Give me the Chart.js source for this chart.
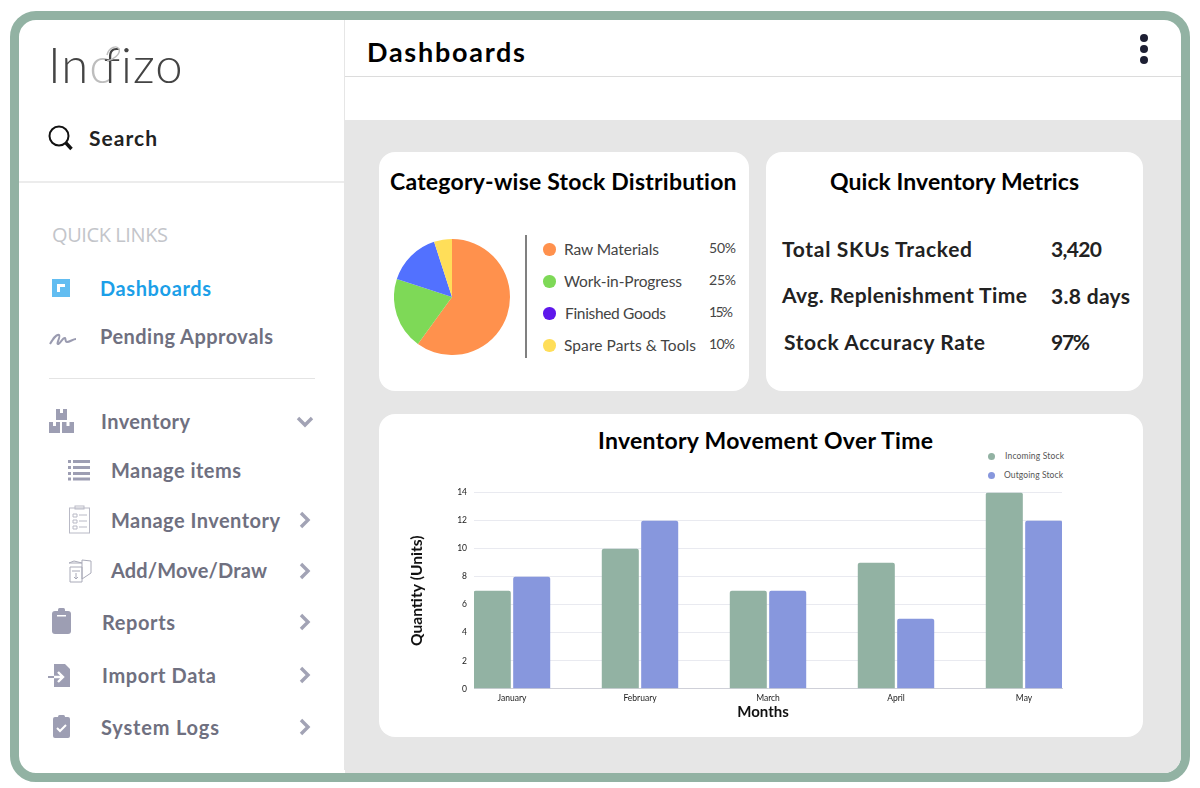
<!DOCTYPE html>
<html><head><meta charset="utf-8">
<script src="https://cdn.jsdelivr.net/npm/chart.js@4"></script>
<style>
html,body{margin:0;padding:0;width:1200px;height:788px;overflow:hidden;background:#fff}
#frame{position:absolute;left:10px;top:11px;width:1162px;height:753px;border:9px solid #92b2a3;border-radius:26px;background:#fff;overflow:hidden}
#inner{position:absolute;left:326px;top:100px;width:836px;height:653px;background:#e6e6e6}
.box{position:absolute}
.t{position:absolute;white-space:nowrap;transform:translateY(-50%);line-height:1.2;font-family:Lato,sans-serif}
canvas{display:block}
svg{position:absolute;overflow:visible}
</style></head><body>
<div id="frame"><div id="inner"></div></div>
<div class="box" style="left:345px;top:76px;width:836px;height:1px;background:#dcdcdc"></div>
<div class="box" style="left:344px;top:20px;width:1px;height:750px;background:#e6e6e6"></div>
<div class="box" style="left:19px;top:181px;width:325px;height:2px;background:#ececec"></div>
<div class="box" style="left:49px;top:377.5px;width:266px;height:1.5px;background:#e4e4e4"></div>
<div class="box" style="left:379px;top:152px;width:370px;height:239px;background:#fff;border-radius:16px"></div>
<div class="box" style="left:766px;top:152px;width:377px;height:239px;background:#fff;border-radius:16px"></div>
<div class="box" style="left:379px;top:414px;width:764px;height:323px;background:#fff;border-radius:16px"></div>
<div class="box" style="left:525px;top:235px;width:2px;height:123px;background:#808080"></div>
<div class="box" style="left:1140px;top:34px;width:8px;height:8px;border-radius:50%;background:#1d1f33"></div>
<div class="box" style="left:1140px;top:45px;width:8px;height:8px;border-radius:50%;background:#1d1f33"></div>
<div class="box" style="left:1140px;top:56px;width:8px;height:8px;border-radius:50%;background:#1d1f33"></div>

<div class="t" style="left:48px;top:64px;font:300 49px Lato,sans-serif;color:#444;line-height:1.2;letter-spacing:1px">In<span style="color:#bdbdbd;letter-spacing:-9px">c</span>fizo</div>

<svg style="left:0;top:0" width="345" height="788" viewBox="0 0 345 788">
 <path d="M107 55c2-8 10-10 12-6 2 5-6 11-12 12" fill="none" stroke="#bdbdbd" stroke-width="1.400"/>
 <g fill="none" stroke="#111" stroke-width="2"><circle cx="59" cy="136" r="9.5"/><path d="M66 143l5.5 6" stroke-width="3.4"/></g>
 <rect x="52" y="279" width="18" height="18" fill="#62bdf1"/><path d="M57 284h8v3h-5v5h-3z" fill="#fff"/>
 <path d="M50 344c3-5 6-10 9-9 2 1-3 9-1 9 2 0 5-7 7-6 1 1 0 4 2 4 3 0 6-3 9-3" fill="none" stroke="#9a9bb0" stroke-width="2"/>
 <g fill="#9d9eb3"><rect x="56" y="409" width="11" height="11"/><rect x="49" y="422" width="11" height="11"/><rect x="62" y="422" width="12" height="11"/></g>
 <g fill="#fff"><rect x="60" y="409" width="3" height="4"/><rect x="53" y="422" width="3" height="4"/><rect x="66.500" y="422" width="3" height="4"/></g>
 <g fill="#9d9eb3"><rect x="68" y="460" width="3" height="3"/><rect x="68" y="466" width="3" height="3"/><rect x="68" y="472" width="3" height="3"/><rect x="68" y="477.500" width="3" height="3"/><rect x="73" y="460" width="17" height="3"/><rect x="73" y="466" width="17" height="3"/><rect x="73" y="472" width="17" height="3"/><rect x="73" y="477.500" width="17" height="3"/></g>
 <g fill="none" stroke="#b9bac6" stroke-width="1"><rect x="69.500" y="508" width="20" height="25"/><rect x="75" y="506" width="9" height="3"/><path d="M73 514h4v3h-4zM73 520h4v3h-4zM73 526h4v3h-4zM79 515h8M79 521h8M79 527h8"/></g>
 <g fill="none" stroke="#a9aab8" stroke-width="1"><path d="M69 563l5-2 8 2v-3l9 1v12l-9 6v-16l-13 0z"/><path d="M70 567h12v15h-12z"/><path d="M72 571h8M76 573v6M74 577l2 2 2-2"/></g>
 <g fill="#9d9eb3"><rect x="52" y="611" width="19" height="23" rx="3"/><rect x="58" y="608" width="7" height="6" rx="1.500"/></g><rect x="57" y="615" width="9" height="1.500" fill="#fff"/>
 <path d="M54 664h11l5 5v18h-16z" fill="#9d9eb3"/><path d="M48 677h14M58 672l5 5-5 5" fill="none" stroke="#fff" stroke-width="2.400"/><path d="M48 677h6" stroke="#9d9eb3" stroke-width="2"/>
 <g fill="#9d9eb3"><rect x="53" y="717" width="17" height="21" rx="2"/><rect x="58" y="715" width="7" height="5" rx="1.500"/></g><path d="M57 728l3 3 6-6" fill="none" stroke="#fff" stroke-width="2"/>
 <g fill="none" stroke="#a2a3b5" stroke-width="3.400"><path d="M298 418l7 7 7-7"/><path d="M301 513l7 7-7 7"/><path d="M301 564l7 7-7 7"/><path d="M301 615l7 7-7 7"/><path d="M301 668l7 7-7 7"/><path d="M301 720l7 7-7 7"/></g>
</svg>

<div class="box" style="left:393.700px;top:238.800px;width:116px;height:116px"><canvas id="pie"></canvas></div>
<div class="box" style="left:400px;top:480px;width:680px;height:245px"><canvas id="bars"></canvas></div>
<div id="texts"></div>

<script>
// Pie slices as drawn in the picture
const pieLabels = ['Raw Materials','Work-in-Progress','Spare Parts & Tools','Finished Goods'];
const pieValues = [60,20,15,5];
const pieColors = ['#ff914d','#7ed957','#5271ff','#ffde59'];
// Legend as printed beside the pie
const legendNames = ['Raw Materials','Work-in-Progress','Finished Goods','Spare Parts & Tools'];
const legendShares = ['50%','25%','15%','10%'];
const legendColors = ['#ff914d','#7ed957','#5e17eb','#ffde59'];
// Bars
const months = ['January','February','March','April','May'];
const incoming = [7,10,7,9,14];
const outgoing = [8,12,7,5,12];
const yTicks = [0,2,4,6,8,10,12,14];

const BOLD=700, REG=400;
const texts = [
 ['Dashboards',367,525,51.500,27,BOLD,'#000'],
 ['Search',89,157,137.500,21,BOLD,'#222'],
 ['QUICK LINKS',52,168,235,20,REG,'#c3c5ca','Open Sans'],
 ['Dashboards',100,211,288,20,BOLD,'#1c9fe8'],
 ['Pending Approvals',100,273,336,20,BOLD,'#6f7080'],
 ['Inventory',101,190,421,20,BOLD,'#6f7080'],
 ['Manage items',111,241,470,20,BOLD,'#6f7080'],
 ['Manage Inventory',111,280,520,20,BOLD,'#6f7080'],
 ['Add/Move/Draw',111,267,570,20,BOLD,'#6f7080'],
 ['Reports',102,175,622,20,BOLD,'#6f7080'],
 ['Import Data',102,216,675,20,BOLD,'#6f7080'],
 ['System Logs',101,219,727,20,BOLD,'#6f7080'],
 ['Category-wise Stock Distribution',390,737,182,23,BOLD,'#000'],
 ['Quick Inventory Metrics',830,1079,182,23,BOLD,'#000'],
 ['Total SKUs Tracked',782,972,249,21,BOLD,'#222'],
 ['3,420',1051,1102,249,21,BOLD,'#222'],
 ['Avg. Replenishment Time',782,1027,295,21,BOLD,'#222'],
 ['3.8 days',1051,1130,296,21,BOLD,'#222'],
 ['Stock Accuracy Rate',784,985,342,21,BOLD,'#222'],
 ['97%',1051,1090,342,21,BOLD,'#222'],
 ['Inventory Movement Over Time',598,933,441,23,BOLD,'#000'],
 ['Incoming Stock',1005,1064,456,8.500,REG,'#555'],
 ['Outgoing Stock',1004,1063,475,8.500,REG,'#555'],
];
const legendRows = [[564,659,709,736,249],[564,682,709,736,281],[565,666,709,733,313],[564,696,709,735,345]];
legendRows.forEach((r,i)=>{
  texts.push([legendNames[i],r[0],r[1],r[4],15.500,REG,'#444']);
  texts.push([legendShares[i],r[2],r[3],r[4]-1,14,REG,'#444']);
  const d=document.createElement('div');d.className='box';
  d.style.cssText=`left:543px;top:${r[4]-6}px;width:12.500px;height:12.500px;border-radius:50%;background:${legendColors[i]}`;
  document.body.appendChild(d);
});
[[456.5,'#92b2a3'],[475,'#8797dd']].forEach(([y,c])=>{
  const d=document.createElement('div');d.className='box';
  d.style.cssText=`left:988px;top:${y-3.5}px;width:7px;height:7px;border-radius:50%;background:${c}`;
  document.body.appendChild(d);
});
const host=document.getElementById('texts');
texts.forEach(([s,x0,x1,y,size,w,c,f])=>{
  const e=document.createElement('div');e.className='t';e.textContent=s;
  e.style.cssText=`left:${x0}px;top:${y}px;font-size:${size}px;font-weight:${w};color:${c};`+(f?`font-family:'${f}',sans-serif;`:'');
  host.appendChild(e);
  const m=e.getBoundingClientRect().width;
  e.style.letterSpacing=((x1-x0-m)/(s.length-1))+'px';
});

// Category scale whose plot area stops short of the half-category margin
class InsetCategoryScale extends Chart.CategoryScale{
  static id='insetCategory';
  static defaults=Chart.CategoryScale.defaults;
  buildTicks(){
    const t=super.buildTicks();
    const inset=38/128;
    this._startValue=this.min-inset;
    this._valueRange=(this.max-this.min)+2*inset;
    return t;
  }
  drawTitle(chartArea){
    const c=this.ctx;c.save();c.translate(-5,0);super.drawTitle(chartArea);c.restore();
  }
}
Chart.register(InsetCategoryScale);
Chart.defaults.animation=false;
Chart.defaults.font.family='Lato, sans-serif';

new Chart(document.getElementById('pie'),{
  type:'pie',
  data:{labels:pieLabels,datasets:[{data:pieValues,backgroundColor:pieColors,borderWidth:0}]},
  options:{responsive:true,maintainAspectRatio:false,plugins:{legend:{display:false},tooltip:{enabled:false}}}
});

new Chart(document.getElementById('bars'),{
  type:'bar',
  data:{labels:months,datasets:[
    {label:'Incoming Stock',data:incoming,backgroundColor:'#92b2a3'},
    {label:'Outgoing Stock',data:outgoing,backgroundColor:'#8797dd'}
  ]},
  options:{
    responsive:true,maintainAspectRatio:false,
    layout:{padding:{top:12.6,right:18,left:0,bottom:0}},
    categoryPercentage:0.6156,barPercentage:0.94,
    borderRadius:{topLeft:2,topRight:2},
    plugins:{legend:{display:false},tooltip:{enabled:false}},
    scales:{
      x:{type:'insetCategory',offset:true,
        afterFit(s){s.height=36.2},
        grid:{display:false,drawTicks:false},
        border:{color:'#cfd0d8'},
        ticks:{color:'#222',font:{size:8.500},padding:4,maxRotation:0},
        title:{display:true,text:'Months',color:'#111',font:{size:15,weight:'700'},padding:{top:0,bottom:4}}
      },
      y:{min:0,max:14,
        afterFit(s){s.width=74},
        afterBuildTicks(s){s.ticks=yTicks.map(v=>({value:v}))},
        grid:{color:'#e9eaf0',drawTicks:false},
        border:{display:false},
        ticks:{color:'#222',font:{size:8.500},padding:7},
        title:{display:true,text:'Quantity (Units)',color:'#111',font:{size:15.600,weight:'700'},padding:{top:8,bottom:0}}
      }
    }
  }
});
</script>
</body></html>
